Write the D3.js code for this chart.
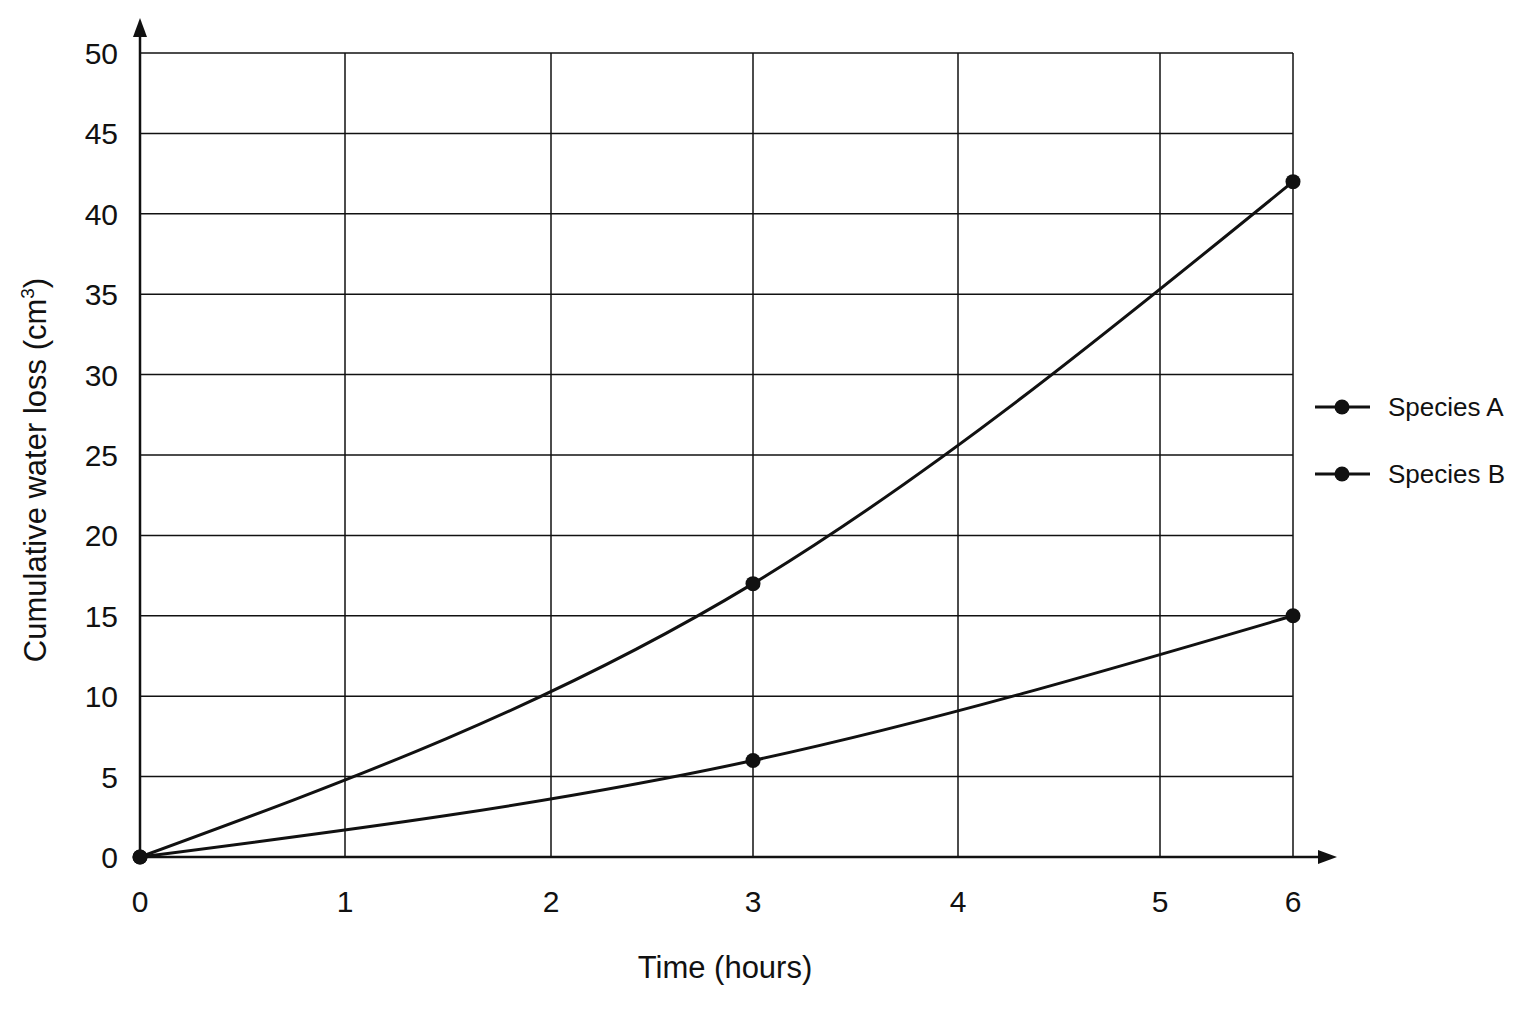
<!DOCTYPE html>
<html>
<head>
<meta charset="utf-8">
<script src="https://cdn.jsdelivr.net/npm/d3@7"></script>
<style>
  body { margin: 0; background: #fff; }
  text { font-family: "Liberation Sans", Arial, sans-serif; fill: #111; }
</style>
</head>
<body>
<svg id="chart" width="1536" height="1024"></svg>
<script>
const xTicks = [0, 1, 2, 3, 4, 5, 6];
const yTicks = [0, 5, 10, 15, 20, 25, 30, 35, 40, 45, 50];
const hours = [0, 3, 6];
const speciesA = [0, 17, 42];
const speciesB = [0, 6, 15];
const seriesNames = ["Species A", "Species B"];

const svg = d3.select("#chart");

// the drawn x grid is uneven: the 5–6 gap is shorter than the others
const x = d3.scaleLinear()
  .domain(xTicks)
  .range([140, 345, 551, 753, 958, 1160, 1293]);
const y = d3.scaleLinear().domain([0, 50]).range([857, 53]);

const grid = svg.append("g").attr("stroke", "#111").attr("stroke-width", 1.5);
grid.selectAll(".gx").data(xTicks.slice(1)).enter().append("line")
  .attr("x1", d => x(d)).attr("x2", d => x(d))
  .attr("y1", y(0)).attr("y2", y(50));
grid.selectAll(".gy").data(yTicks.slice(1)).enter().append("line")
  .attr("x1", x(0)).attr("x2", x(6))
  .attr("y1", d => y(d)).attr("y2", d => y(d));

// axes with arrow heads
svg.append("line").attr("x1", x(0)).attr("x2", 1325).attr("y1", y(0)).attr("y2", y(0))
  .attr("stroke", "#111").attr("stroke-width", 2.5);
svg.append("path").attr("d", `M1337,${y(0)} L1318,${y(0) - 7} L1318,${y(0) + 7} Z`).attr("fill", "#111");
svg.append("line").attr("x1", x(0)).attr("x2", x(0)).attr("y1", y(0)).attr("y2", 28)
  .attr("stroke", "#111").attr("stroke-width", 2.5);
svg.append("path").attr("d", `M${x(0)},18 L${x(0) - 7},37 L${x(0) + 7},37 Z`).attr("fill", "#111");

svg.selectAll(".xt").data(xTicks).enter().append("text")
  .attr("x", d => x(d)).attr("y", 912).attr("text-anchor", "middle")
  .attr("font-size", 30).text(d => d);
svg.selectAll(".yt").data(yTicks).enter().append("text")
  .attr("x", 118).attr("y", d => y(d) + 11).attr("text-anchor", "end")
  .attr("font-size", 30).text(d => d);

svg.append("text").attr("x", 725).attr("y", 978).attr("text-anchor", "middle")
  .attr("font-size", 31).text("Time (hours)");
const yl = svg.append("text").attr("transform", "translate(46,470) rotate(-90)")
  .attr("text-anchor", "middle").attr("font-size", 31);
yl.append("tspan").text("Cumulative water loss (cm");
yl.append("tspan").attr("dy", -12).attr("font-size", 19).text("3");
yl.append("tspan").attr("dy", 12).text(")");

const line = d3.line().x((d, i) => x(hours[i])).y(d => y(d)).curve(d3.curveMonotoneX);
[speciesA, speciesB].forEach(s => {
  svg.append("path").datum(s).attr("d", line)
    .attr("fill", "none").attr("stroke", "#111").attr("stroke-width", 3);
  svg.selectAll(null).data(s).enter().append("circle")
    .attr("cx", (d, i) => x(hours[i])).attr("cy", d => y(d)).attr("r", 7.5).attr("fill", "#111");
});

const leg = svg.selectAll(".leg").data(seriesNames).enter().append("g")
  .attr("transform", (d, i) => `translate(1315,${407 + i * 67})`);
leg.append("line").attr("x1", 0).attr("x2", 55).attr("stroke", "#111").attr("stroke-width", 3);
leg.append("circle").attr("cx", 27).attr("r", 7.5).attr("fill", "#111");
leg.append("text").attr("x", 73).attr("y", 9).attr("font-size", 26).text(d => d);
</script>
</body>
</html>
